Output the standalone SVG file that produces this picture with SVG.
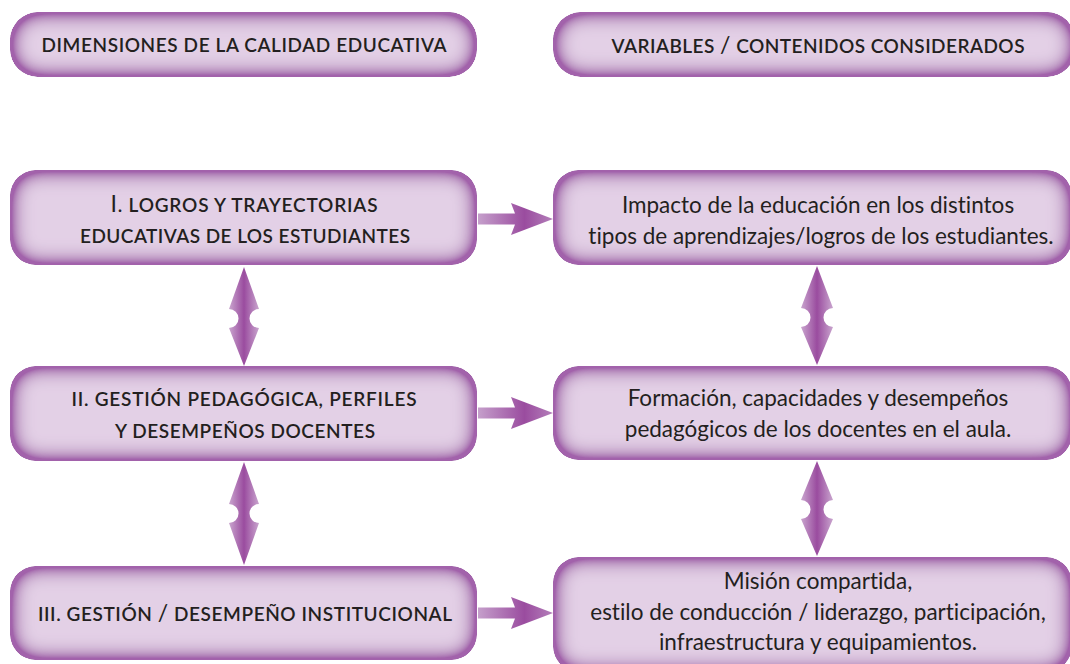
<svg xmlns="http://www.w3.org/2000/svg" width="1070" height="664" viewBox="0 0 1070 664">
<defs>
<style>
.box{fill:#e3d0e6;filter:url(#inner)}
.sc{font-family:Lato,"Liberation Sans",sans-serif;font-size:19px;fill:#231f20;text-anchor:middle;font-weight:600;font-variant-ligatures:none}
.tx{font-family:Lato,"Liberation Sans",sans-serif;font-size:22.5px;fill:#231f20;text-anchor:middle;font-variant-ligatures:none}
.big{font-size:23px;font-weight:400}
.ha{fill:url(#hg)}
.va{fill:url(#vg)}
</style>
<filter id="inner" x="-5%" y="-10%" width="110%" height="120%">
<feGaussianBlur in="SourceAlpha" stdDeviation="11" result="b"/>
<feComposite in="SourceAlpha" in2="b" operator="arithmetic" k2="2.3" k3="-2.3" result="edge"/>
<feFlood flood-color="#a262ab"/>
<feComposite in2="edge" operator="in" result="shade"/>
<feMerge><feMergeNode in="SourceGraphic"/><feMergeNode in="shade"/></feMerge>
</filter>
<linearGradient id="hg" x1="0" y1="0" x2="1" y2="0">
<stop offset="0" stop-color="#c59fcb"/>
<stop offset="0.62" stop-color="#9a4c9f"/>
<stop offset="1" stop-color="#b47fba"/>
</linearGradient>
<linearGradient id="vg" x1="0" y1="0" x2="1" y2="0">
<stop offset="0" stop-color="#c9a5ce"/>
<stop offset="0.5" stop-color="#9a4c9f"/>
<stop offset="1" stop-color="#c9a5ce"/>
</linearGradient>
<path id="harrow" d="M0,-5.5 L37,-5.5 L33,-16 L75,0 L33,16 L37,5.5 L0,5.5 Z"/>
</defs>

<g id="h-dimensiones">
<rect class="box" x="10" y="12" width="467" height="65" rx="28"/>
<text class="sc" x="244" y="52" textLength="405" lengthAdjust="spacing">DIMENSIONES DE LA CALIDAD EDUCATIVA</text>
</g>
<g id="h-variables">
<rect class="box" x="553" y="12" width="522" height="65" rx="28"/>
<text class="sc" x="818" y="53" textLength="413" lengthAdjust="spacing">VARIABLES <tspan class="big">/</tspan> CONTENIDOS CONSIDERADOS</text>
</g>

<g id="n-logros">
<rect class="box" x="10" y="170" width="467" height="95" rx="26"/>
<text class="sc" x="244" y="212" textLength="267" lengthAdjust="spacing"><tspan class="big">I</tspan>. LOGROS Y TRAYECTORIAS</text>
<text class="sc" x="245" y="243" textLength="330" lengthAdjust="spacing">EDUCATIVAS DE LOS ESTUDIANTES</text>
</g>
<g id="n-gestion-ped">
<rect class="box" x="10" y="366" width="467" height="95" rx="26"/>
<text class="sc" x="244" y="406" textLength="345" lengthAdjust="spacing">II. GESTIÓN PEDAGÓGICA, PERFILES</text>
<text class="sc" x="245" y="438" textLength="260" lengthAdjust="spacing">Y DESEMPEÑOS DOCENTES</text>
</g>
<g id="n-gestion-inst">
<rect class="box" x="10" y="566" width="467" height="94" rx="26"/>
<text class="sc" x="245" y="621" textLength="414" lengthAdjust="spacing">III. GESTIÓN <tspan class="big">/</tspan> DESEMPEÑO INSTITUCIONAL</text>
</g>

<g id="n-impacto">
<rect class="box" x="553" y="170" width="519" height="95" rx="26"/>
<text class="tx" x="818" y="213">Impacto de la educación en los distintos</text>
<text class="tx" x="821" y="244">tipos de aprendizajes/logros de los estudiantes.</text>
</g>
<g id="n-formacion">
<rect class="box" x="553" y="366" width="519" height="94" rx="26"/>
<text class="tx" x="818" y="406">Formación, capacidades y desempeños</text>
<text class="tx" x="818" y="437">pedagógicos de los docentes en el aula.</text>
</g>
<g id="n-mision">
<rect class="box" x="553" y="557" width="519" height="115" rx="26"/>
<text class="tx" x="818" y="589">Misión compartida,</text>
<text class="tx" x="818" y="620">estilo de conducción / liderazgo, participación,</text>
<text class="tx" x="818" y="650">infraestructura y equipamientos.</text>
</g>

<g id="connectors">
<use href="#harrow" class="ha" transform="translate(478,219)"/>
<use href="#harrow" class="ha" transform="translate(478,413)"/>
<use href="#harrow" class="ha" transform="translate(478,613)"/>
<path class="va" d="M244,267 L259,309 A9.5,9.5 0 0 0 259,328 L244,366 L229,328 A9.5,9.5 0 0 0 229,309 Z"/>
<path class="va" d="M244,462 L259,504 A9.5,9.5 0 0 0 259,523 L244,565 L229,523 A9.5,9.5 0 0 0 229,504 Z"/>
<path class="va" d="M817,266 L833,308 A9.5,9.5 0 0 0 833,327 L817,365 L801,327 A9.5,9.5 0 0 0 801,308 Z"/>
<path class="va" d="M817,461 L833,500 A9.5,9.5 0 0 0 833,519 L817,556 L801,519 A9.5,9.5 0 0 0 801,500 Z"/>
</g>
</svg>
